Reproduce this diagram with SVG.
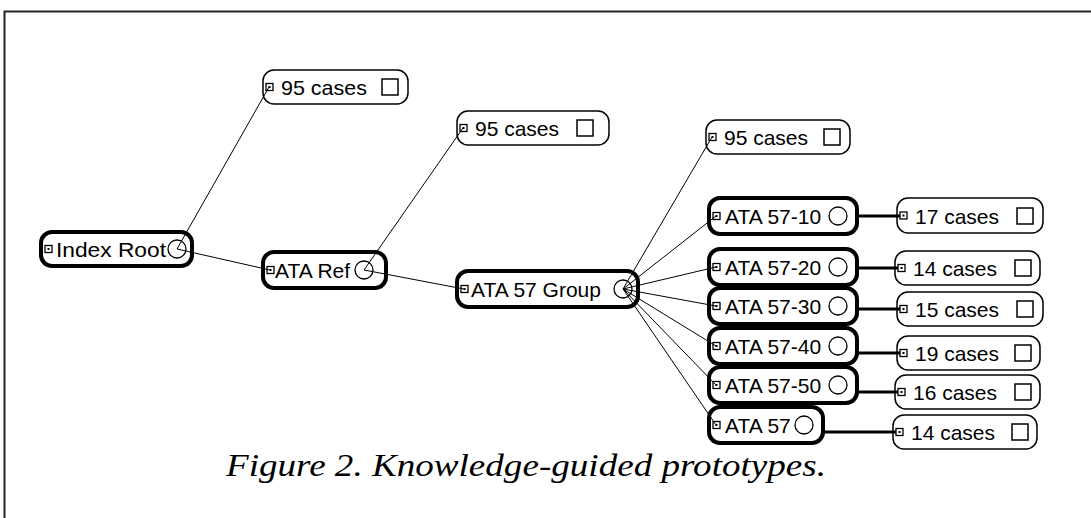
<svg xmlns="http://www.w3.org/2000/svg" width="1091" height="518" viewBox="0 0 1091 518">
<style>
.nb{fill:#fff;stroke:#000;stroke-width:4}
.lb{fill:#fff;stroke:#000;stroke-width:1.5}
.t{font-family:"Liberation Sans",Arial,sans-serif;font-size:21px;fill:#000}
.ic{fill:#fff;stroke:#000;stroke-width:1.3}
.icd{fill:#000}
.hc{fill:none;stroke:#000;stroke-width:1.3}
.sq{fill:#fff;stroke:#000;stroke-width:1.5}
.e{stroke:#000;stroke-width:1;fill:none}
.et{stroke:#000;stroke-width:3;fill:none}
.cap{font-family:"Liberation Serif","Times New Roman",serif;font-style:italic;font-size:32px;fill:#000}
</style>
<rect width="1091" height="518" fill="#fff"/>
<rect x="4.5" y="11.5" width="1200" height="600" fill="none" stroke="#222" stroke-width="2"/>

<g id="n-index-root">
<rect class="nb" x="41" y="232" width="151" height="34" rx="11"/>
<rect class="ic" x="45" y="245.5" width="7" height="7"/><rect class="icd" x="47.5" y="248" width="2" height="2"/>
<text class="t" x="56" y="256.5" textLength="110" lengthAdjust="spacingAndGlyphs">Index Root</text>
<circle class="hc" cx="177" cy="249" r="9"/>
</g>
<g id="n-ata-ref">
<rect class="nb" x="263" y="252" width="123" height="36" rx="11"/>
<rect class="ic" x="267" y="266.5" width="7" height="7"/><rect class="icd" x="269.5" y="269" width="2" height="2"/>
<text class="t" x="275" y="277.5">ATA Ref</text>
<circle class="hc" cx="364" cy="270" r="9"/>
</g>
<g id="n-ata57-group">
<rect class="nb" x="457" y="271" width="181" height="36" rx="11"/>
<rect class="ic" x="461" y="285.5" width="7" height="7"/><rect class="icd" x="463.5" y="288" width="2" height="2"/>
<text class="t" x="471" y="296.5">ATA 57 Group</text>
<circle class="hc" cx="623" cy="289" r="9"/>
</g>
<g id="n-ata57-10">
<rect class="nb" x="709" y="198" width="148" height="36" rx="11"/>
<rect class="ic" x="713" y="212.5" width="7" height="7"/><rect class="icd" x="715.5" y="215" width="2" height="2"/>
<text class="t" x="725" y="223.5">ATA 57-10</text>
<circle class="hc" cx="838" cy="216" r="9"/>
</g>
<g id="n-ata57-20">
<rect class="nb" x="709" y="249" width="148" height="36" rx="11"/>
<rect class="ic" x="713" y="263.5" width="7" height="7"/><rect class="icd" x="715.5" y="266" width="2" height="2"/>
<text class="t" x="725" y="274.5">ATA 57-20</text>
<circle class="hc" cx="838" cy="267" r="9"/>
</g>
<g id="n-ata57-30">
<rect class="nb" x="709" y="288" width="148" height="36" rx="11"/>
<rect class="ic" x="713" y="302.5" width="7" height="7"/><rect class="icd" x="715.5" y="305" width="2" height="2"/>
<text class="t" x="725" y="313.5">ATA 57-30</text>
<circle class="hc" cx="838" cy="306" r="9"/>
</g>
<g id="n-ata57-40">
<rect class="nb" x="709" y="328" width="148" height="36" rx="11"/>
<rect class="ic" x="713" y="342.5" width="7" height="7"/><rect class="icd" x="715.5" y="345" width="2" height="2"/>
<text class="t" x="725" y="353.5">ATA 57-40</text>
<circle class="hc" cx="838" cy="346" r="9"/>
</g>
<g id="n-ata57-50">
<rect class="nb" x="709" y="367" width="148" height="36" rx="11"/>
<rect class="ic" x="713" y="381.5" width="7" height="7"/><rect class="icd" x="715.5" y="384" width="2" height="2"/>
<text class="t" x="725" y="392.5">ATA 57-50</text>
<circle class="hc" cx="838" cy="385" r="9"/>
</g>
<g id="n-ata57">
<rect class="nb" x="709" y="407" width="114" height="36" rx="11"/>
<rect class="ic" x="713" y="421.5" width="7" height="7"/><rect class="icd" x="715.5" y="424" width="2" height="2"/>
<text class="t" x="725" y="432.5">ATA 57</text>
<circle class="hc" cx="804" cy="425" r="9"/>
</g>

<g id="l-95a">
<rect class="lb" x="263" y="70" width="145" height="34" rx="11"/>
<rect class="ic" x="266" y="83.5" width="7" height="7"/><rect class="icd" x="268.5" y="86" width="2" height="2"/>
<text class="t" x="281" y="94.5" textLength="86" lengthAdjust="spacingAndGlyphs">95 cases</text>
<rect class="sq" x="382" y="79" width="16" height="16"/>
</g>
<g id="l-95b">
<rect class="lb" x="457" y="111" width="152" height="34" rx="11"/>
<rect class="ic" x="460" y="124.5" width="7" height="7"/><rect class="icd" x="462.5" y="127" width="2" height="2"/>
<text class="t" x="475" y="135.5">95 cases</text>
<rect class="sq" x="577" y="120" width="16" height="16"/>
</g>
<g id="l-95c">
<rect class="lb" x="706" y="120" width="144" height="34" rx="11"/>
<rect class="ic" x="709" y="133.5" width="7" height="7"/><rect class="icd" x="711.5" y="136" width="2" height="2"/>
<text class="t" x="724" y="144.5">95 cases</text>
<rect class="sq" x="824" y="129" width="16" height="16"/>
</g>
<g id="l-17">
<rect class="lb" x="897" y="198" width="146" height="35" rx="11"/>
<rect class="ic" x="900" y="212" width="7" height="7"/><rect class="icd" x="902.5" y="214.5" width="2" height="2"/>
<text class="t" x="915" y="223.5">17 cases</text>
<rect class="sq" x="1017" y="208" width="16" height="16"/>
</g>
<g id="l-14a">
<rect class="lb" x="895" y="251" width="145" height="34" rx="11"/>
<rect class="ic" x="898" y="264.5" width="7" height="7"/><rect class="icd" x="900.5" y="267" width="2" height="2"/>
<text class="t" x="913" y="275.5">14 cases</text>
<rect class="sq" x="1015" y="260" width="16" height="16"/>
</g>
<g id="l-15">
<rect class="lb" x="897" y="292" width="146" height="34" rx="11"/>
<rect class="ic" x="900" y="305.5" width="7" height="7"/><rect class="icd" x="902.5" y="308" width="2" height="2"/>
<text class="t" x="915" y="316.5">15 cases</text>
<rect class="sq" x="1017" y="301" width="16" height="16"/>
</g>
<g id="l-19">
<rect class="lb" x="897" y="336" width="143" height="34" rx="11"/>
<rect class="ic" x="900" y="349.5" width="7" height="7"/><rect class="icd" x="902.5" y="352" width="2" height="2"/>
<text class="t" x="915" y="360.5">19 cases</text>
<rect class="sq" x="1015" y="345" width="16" height="16"/>
</g>
<g id="l-16">
<rect class="lb" x="895" y="375" width="145" height="34" rx="11"/>
<rect class="ic" x="898" y="388.5" width="7" height="7"/><rect class="icd" x="900.5" y="391" width="2" height="2"/>
<text class="t" x="913" y="399.5">16 cases</text>
<rect class="sq" x="1015" y="384" width="16" height="16"/>
</g>
<g id="l-14b">
<rect class="lb" x="893" y="415" width="144" height="34" rx="11"/>
<rect class="ic" x="896" y="428.5" width="7" height="7"/><rect class="icd" x="898.5" y="431" width="2" height="2"/>
<text class="t" x="911" y="439.5">14 cases</text>
<rect class="sq" x="1012" y="424" width="16" height="16"/>
</g>

<g id="connectors">
<line class="e" x1="177" y1="249" x2="269" y2="87"/>
<line class="e" x1="177" y1="249" x2="270" y2="270"/>
<line class="e" x1="364" y1="270" x2="463" y2="128"/>
<line class="e" x1="364" y1="270" x2="464" y2="289"/>
<line class="e" x1="623" y1="289" x2="712" y2="137"/>
<line class="e" x1="623" y1="289" x2="716" y2="216"/>
<line class="e" x1="623" y1="289" x2="716" y2="267"/>
<line class="e" x1="623" y1="289" x2="716" y2="306"/>
<line class="e" x1="623" y1="289" x2="716" y2="346"/>
<line class="e" x1="623" y1="289" x2="716" y2="385"/>
<line class="e" x1="623" y1="289" x2="716" y2="425"/>
<line class="et" x1="857" y1="216" x2="900" y2="216"/>
<line class="et" x1="857" y1="268" x2="898" y2="268"/>
<line class="et" x1="857" y1="309" x2="900" y2="309"/>
<line class="et" x1="857" y1="353" x2="900" y2="353"/>
<line class="et" x1="857" y1="392" x2="898" y2="392"/>
<line class="et" x1="823" y1="432" x2="896" y2="432"/>
</g>

<text class="cap" x="226" y="476" textLength="600" lengthAdjust="spacingAndGlyphs">Figure 2. Knowledge-guided prototypes.</text>
</svg>
